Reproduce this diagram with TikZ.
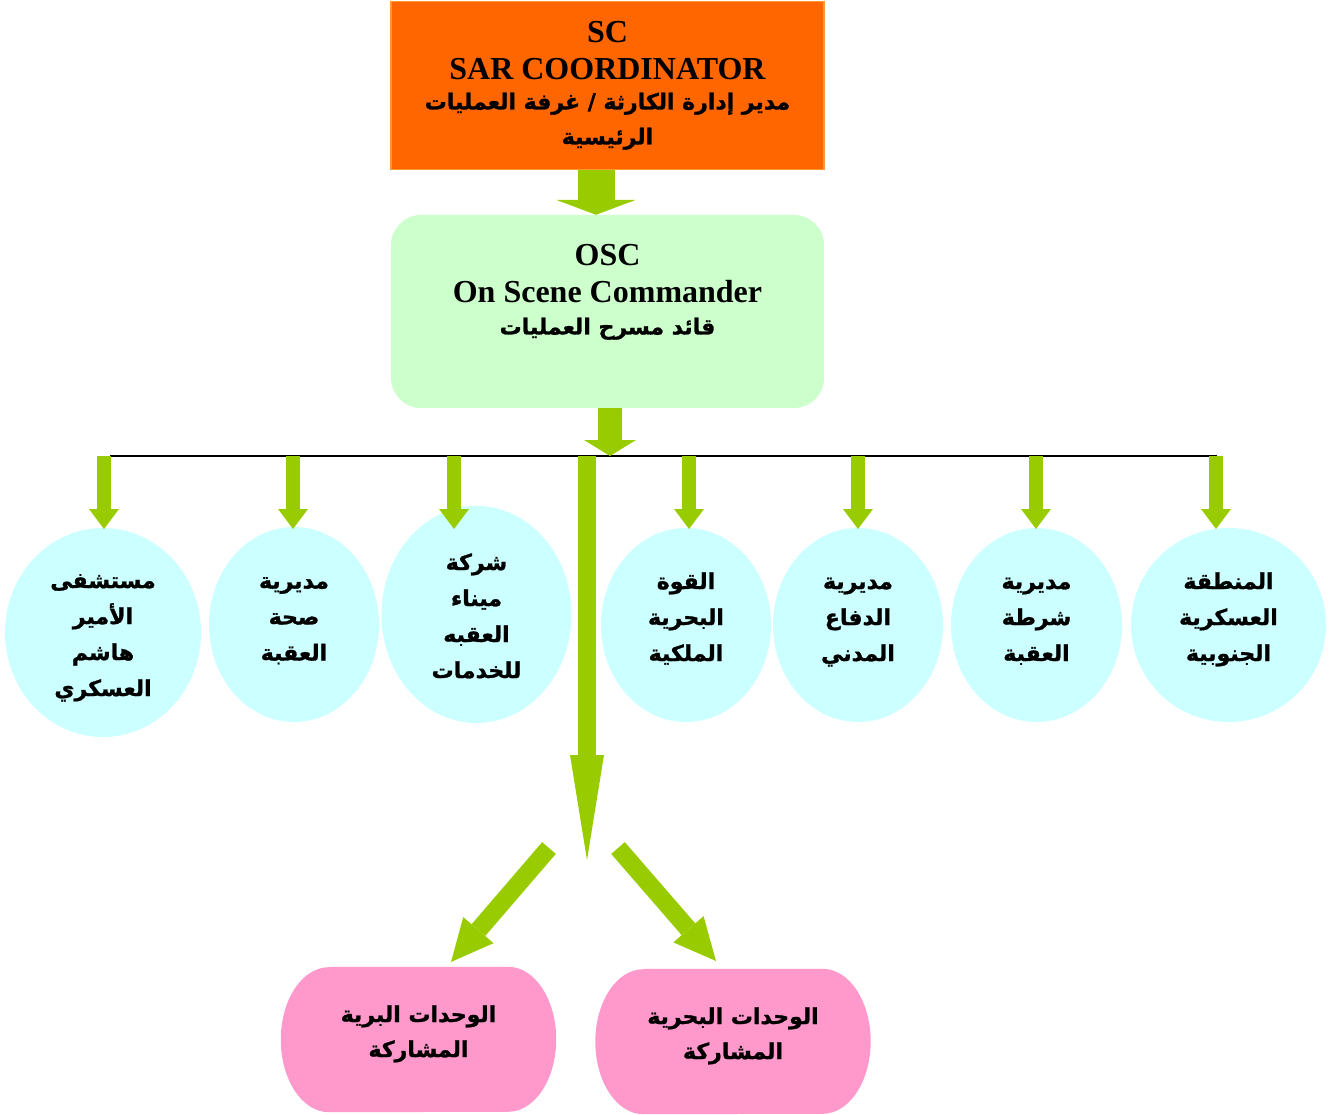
\documentclass[tikz,border=0pt]{standalone}
\usepackage{fontspec}
\setmainfont{Liberation Serif}
\newfontfamily\arfont[Script=Arabic,BoldFeatures={FakeBold=1.2}]{DejaVu Sans}
\TeXXeTstate=1
\usetikzlibrary{arrows.meta,shapes.geometric,backgrounds}
\definecolor{scorange}{HTML}{FF6600}
\definecolor{scborder}{HTML}{FF9933}
\definecolor{oscgreen}{HTML}{CCFFCC}
\definecolor{arrowgreen}{HTML}{99CC00}
\definecolor{cyanfill}{HTML}{CCFFFF}
\definecolor{pinkfill}{HTML}{FF99CC}
\newcommand\ARtxt[1]{{\arfont\bfseries\fontsize{22}{36}\selectfont\beginR #1\endR}}
\newcommand\Rl[1]{\beginR #1\endR}
% struts for first / last lines
\newcommand\topS[1]{\rule{0pt}{#1pt}}
\newcommand\botS[1]{\rule[-#1pt]{0pt}{#1pt}}
\begin{document}
\begin{tikzpicture}[x=1pt,y=-1pt,
  scbox/.style={draw=scborder,line width=1.5pt,fill=scorange,minimum width=433pt,minimum height=168pt,inner sep=0pt,align=center,font=\bfseries\fontsize{32}{35}\selectfont},
  oscbox/.style={fill=oscgreen,rounded corners=30pt,minimum width=433pt,minimum height=193pt,inner sep=0pt},
  osctext/.style={align=center,inner sep=0pt,font=\bfseries\fontsize{32}{37}\selectfont},
  unit/.style={ellipse,fill=cyanfill,inner sep=0pt,align=center,font=\arfont\bfseries\fontsize{22}{36}\selectfont},
  partbox/.style={minimum width=275pt,minimum height=145pt,inner sep=0pt,align=center,font=\arfont\bfseries\fontsize{22}{35}\selectfont},
  bigarrow/.style={arrowgreen,line width=37pt,-{Triangle[width=80pt,length=15pt,line width=0pt]}},
  midarrow/.style={arrowgreen,line width=24pt,-{Triangle[width=52pt,length=16pt,line width=0pt]}},
  smallarrow/.style={arrowgreen,line width=14pt,-{Triangle[width=30pt,length=20pt,line width=0pt]}},
  longarrow/.style={arrowgreen,line width=18pt,-{Triangle[width=34pt,length=105pt,line width=0pt]}},
  diagarrow/.style={arrowgreen,line width=18pt,-{Triangle[width=40pt,length=42pt,line width=0pt]}},
  busline/.style={black,line width=2pt}
]
\useasboundingbox (0,0) rectangle (1338,1115);

% top box
\node[scbox] (sc) at (607.5,85.5) {SC\\[2pt]SAR COORDINATOR\\[-5pt]\ARtxt{مدير إدارة الكارثة / غرفة العمليات}\\\ARtxt{الرئيسية}};

% OSC box
\node[oscbox] (osc) at (607.5,311.5) {};
\node[osctext] (osct) at (607.5,292) {OSC\\On Scene Commander\\[-5pt]\ARtxt{قائد مسرح العمليات}};

% circles
\node[unit,minimum width=196pt,minimum height=209pt] (c1) at (103,632.5) {\topS{28}\Rl{مستشفى}\\\Rl{الأمير}\\\Rl{هاشم}\\\Rl{العسكري}\botS{9}};
\node[unit,minimum width=170pt,minimum height=195pt] (c2) at (294,624.5) {\topS{20}\Rl{مديرية}\\\Rl{صحة}\\\Rl{العقبة}\botS{20}};
\node[unit,minimum width=190pt,minimum height=217pt] (c3) at (476.5,614.5) {\topS{28}\Rl{شركة}\\\Rl{ميناء}\\\Rl{العقبه}\\\Rl{للخدمات}\botS{9}};
\node[unit,minimum width=170pt,minimum height=194pt] (c4) at (686,625) {\topS{20}\Rl{القوة}\\\Rl{البحرية}\\\Rl{الملكية}\botS{20}};
\node[unit,minimum width=170pt,minimum height=194pt] (c5) at (858,625) {\topS{20}\Rl{مديرية}\\\Rl{الدفاع}\\\Rl{المدني}\botS{20}};
\node[unit,minimum width=171pt,minimum height=194pt] (c6) at (1036.5,625) {\topS{20}\Rl{مديرية}\\\Rl{شرطة}\\\Rl{العقبة}\botS{20}};
\node[unit,minimum width=195pt,minimum height=194pt] (c7) at (1228.5,625) {\topS{20}\Rl{المنطقة}\\\Rl{العسكرية}\\\Rl{الجنوبية}\botS{20}};

% participating units
\node[partbox] (land) at (418.5,1039.5) {\topS{20}\Rl{الوحدات البرية}\\\Rl{المشاركة}\botS{20}};
\node[partbox] (sea) at (733,1041.5) {\topS{20}\Rl{الوحدات البحرية}\\\Rl{المشاركة}\botS{20}};
\begin{scope}[on background layer]
\fill[pinkfill] ([xshift=48pt]land.north west) -- ([xshift=-48pt]land.north east)
  arc[start angle=90,end angle=-90,x radius=48pt,y radius=72.5pt]
  -- ([xshift=48pt]land.south west)
  arc[start angle=270,end angle=90,x radius=48pt,y radius=72.5pt] -- cycle;
\fill[pinkfill] ([xshift=48pt]sea.north west) -- ([xshift=-48pt]sea.north east)
  arc[start angle=90,end angle=-90,x radius=48pt,y radius=72.5pt]
  -- ([xshift=48pt]sea.south west)
  arc[start angle=270,end angle=90,x radius=48pt,y radius=72.5pt] -- cycle;
\end{scope}

% bus line
\coordinate (busL) at (110,456);
\coordinate (busR) at (1217,456);
\draw[busline] (busL) -- (busR);

% arrows
\draw[bigarrow] ([xshift=-11.5pt]sc.south) -- ([xshift=-11.5pt]osc.north);
\draw[midarrow] ([xshift=2.5pt]osc.south) -- ([xshift=2.5pt]osc.south |- busL);

\foreach \x/\n in {104/1,293/2,454/3,689/4,858/5,1036/6,1216/7}{
  \coordinate (a\n) at (\x,456);
  \coordinate (t\n) at (\x,529);
  \draw[smallarrow] (a\n) -- (t\n);
}

\coordinate (stemtop) at (587,456);
\coordinate (stemtip) at (587,860);
\draw[longarrow] (stemtop) -- (stemtip);

\coordinate (dl) at (549,848);
\coordinate (dr) at (618,848);
\coordinate (dlt) at (451,962);
\coordinate (drt) at (716,961);
\draw[diagarrow] (dl) -- (dlt);
\draw[diagarrow] (dr) -- (drt);
\end{tikzpicture}
\end{document}
